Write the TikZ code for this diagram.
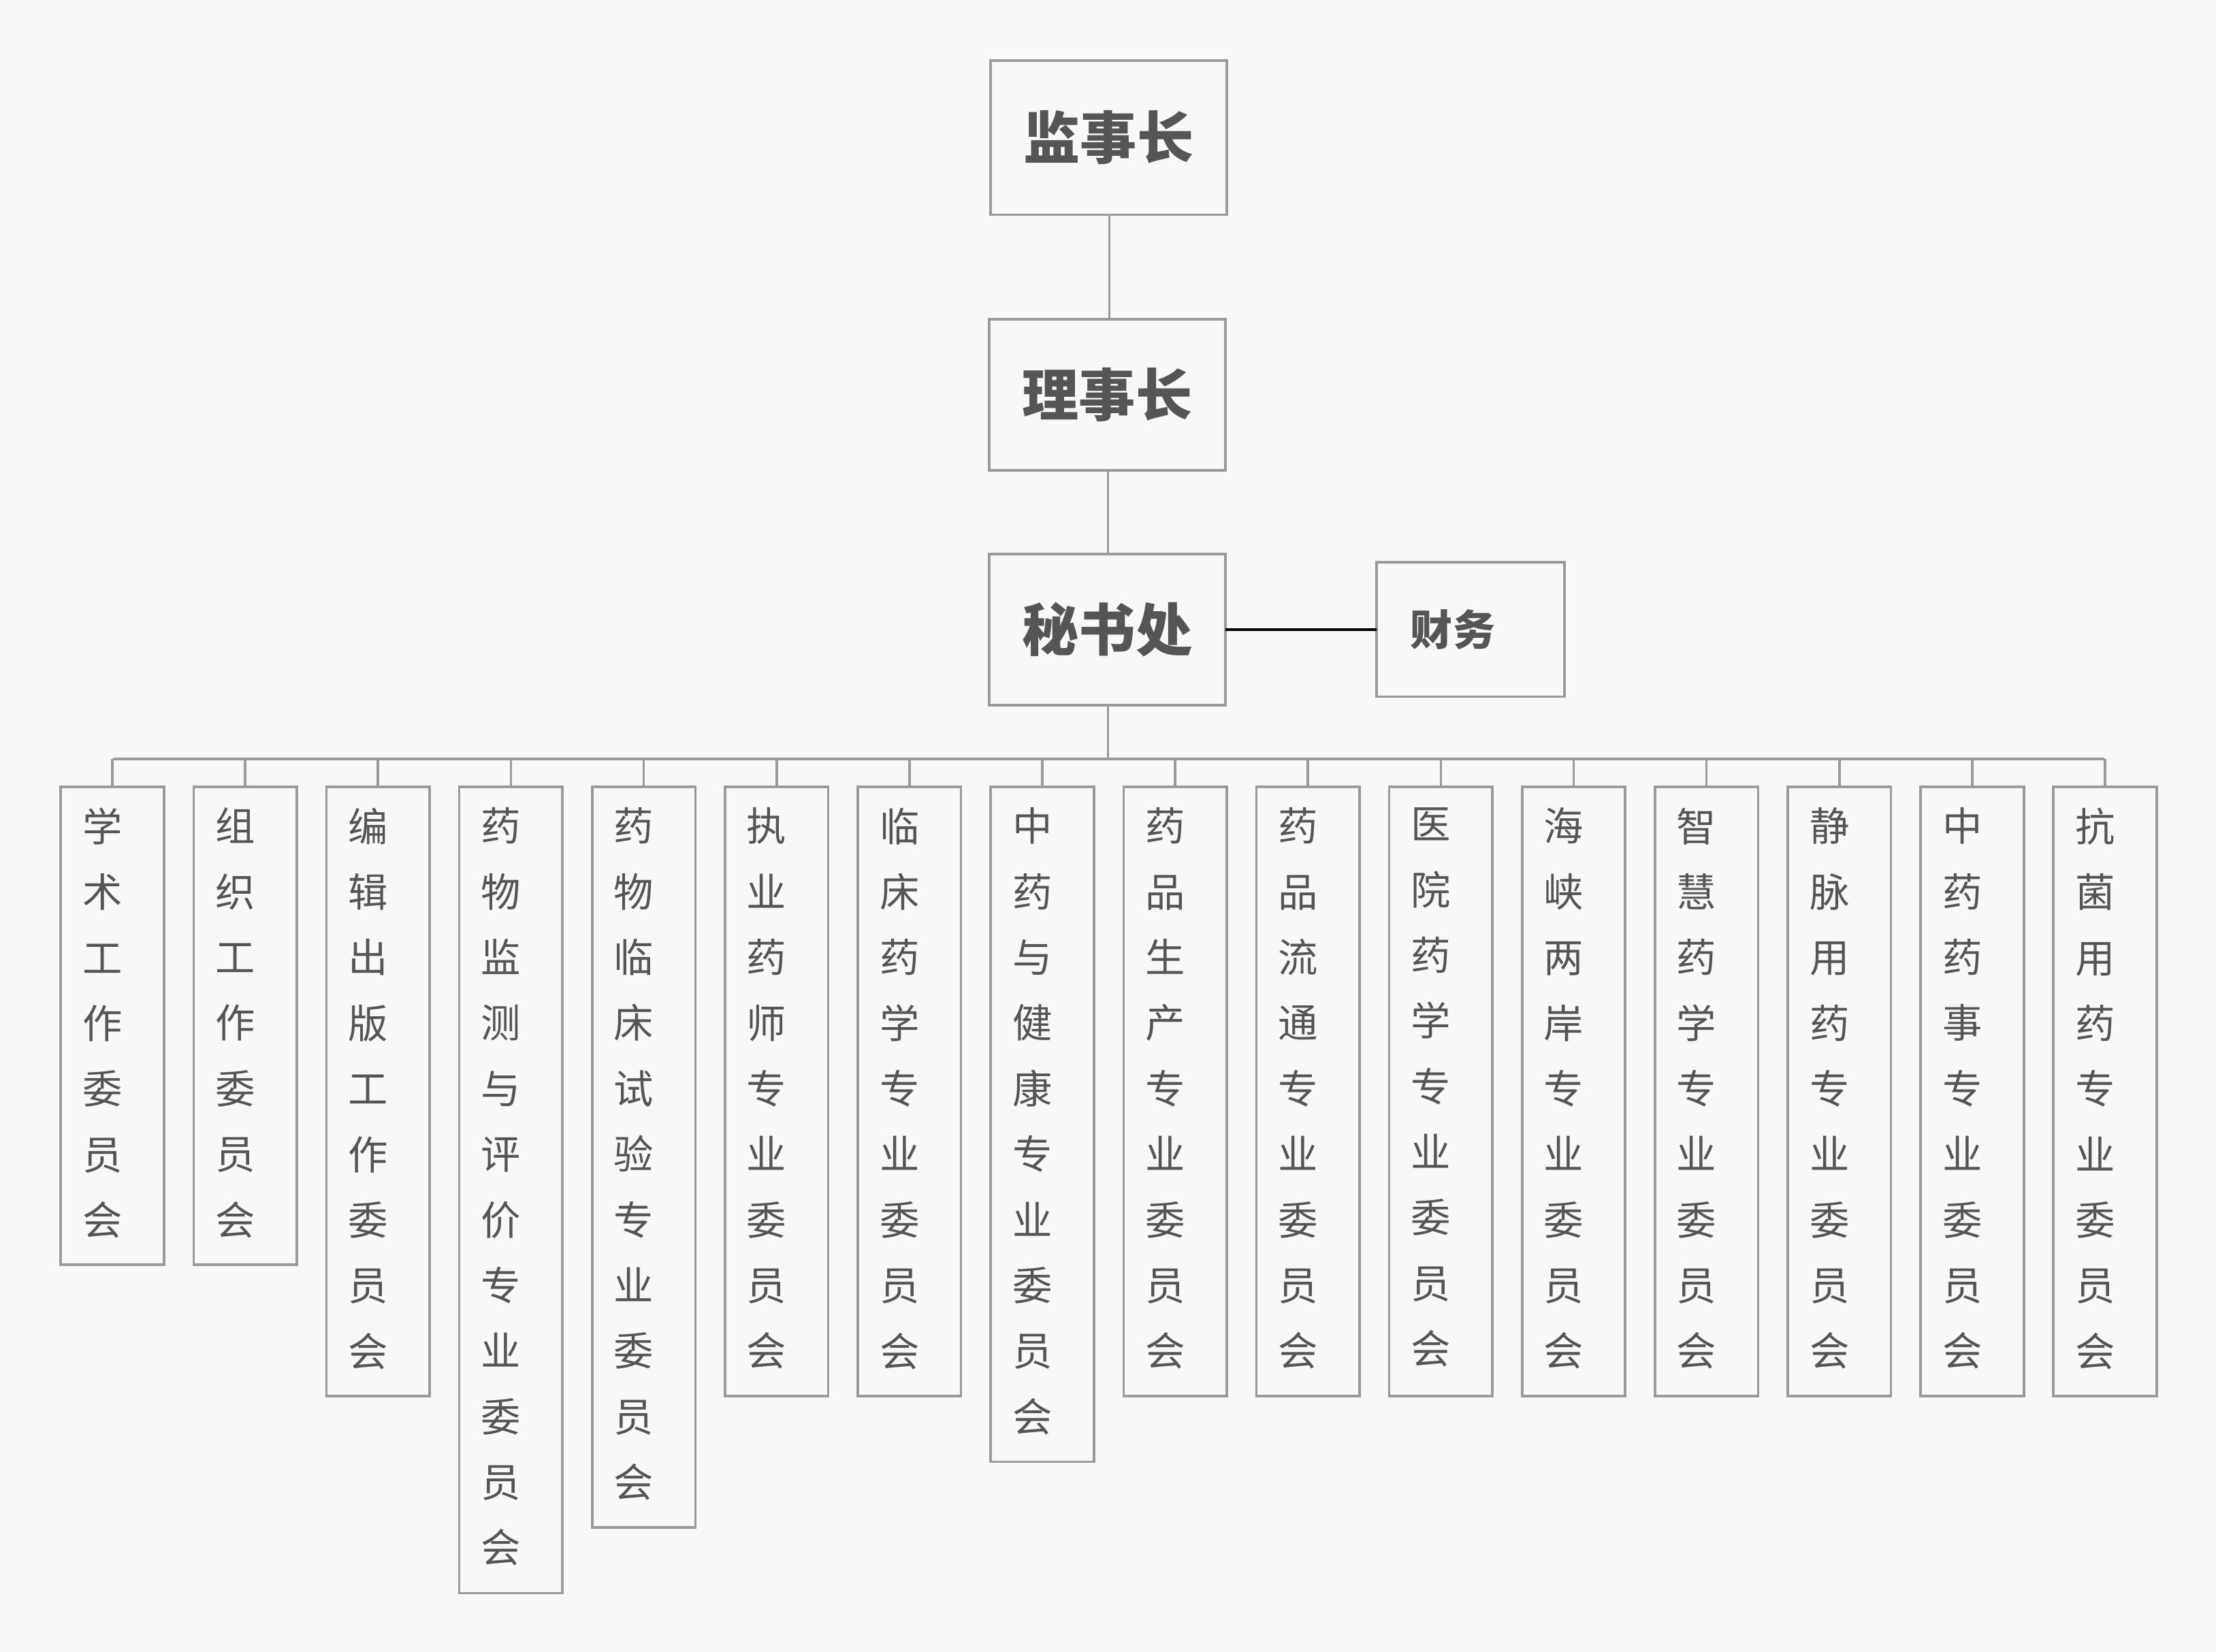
\documentclass[tikz,border=0pt]{standalone}
\usepackage{fontspec}
\newfontfamily\cjk{Noto Sans CJK SC}
\definecolor{bg}{HTML}{F8F8F8}
\definecolor{ln}{HTML}{9A9A9A}
\definecolor{tx}{HTML}{555555}
\begin{document}
\begin{tikzpicture}[x=0.01cm,y=-0.01cm,
  topbox/.style={draw=ln,line width=0.5pt,fill=bg,inner sep=0},
  toptext/.style={font=\cjk\bfseries\fontsize{11.4}{13}\selectfont,text=tx},
  colbox/.style={draw=ln,line width=0.5pt,fill=bg},
  coltext/.style={font=\cjk\fontsize{8}{13.2}\selectfont,text=tx,align=center,anchor=north,inner sep=0},
  conn/.style={draw=ln,line width=0.5pt}]
\fill[bg] (0,0) rectangle (1568,1169);
\useasboundingbox (0,0) rectangle (1568,1169);
\draw[topbox] (701,43) rectangle (868,152);
\node[toptext] (a) at (784.5,97.5) {监事长};
\draw[topbox] (700,226) rectangle (867,333);
\node[toptext] (b) at (783.5,279.5) {理事长};
\draw[topbox] (700,392) rectangle (867,499);
\node[toptext] (c) at (783.5,445.5) {秘书处};
\draw[topbox] (974,398) rectangle (1107,493);
\node[font=\cjk\bfseries\fontsize{8.5}{10}\selectfont,text=tx] (d) at (1028,445.5) {财务};
\coordinate (aB) at (785,152); \coordinate (bT) at (785,226);
\coordinate (bB) at (784,333); \coordinate (cT) at (784,392);
\coordinate (cR) at (867,445.5); \coordinate (dL) at (974,445.5);
\coordinate (cB) at (784,499); \coordinate (bus) at (784,537);
\draw[conn] (aB) -- (bT);
\draw[conn] (bB) -- (cT);
\draw[black,line width=0.6pt] (cR) -- (dL);
\draw[conn] (cB) -- (bus);
\coordinate (busL) at (80,537); \coordinate (busR) at (1489,537);
\draw[conn] (busL) -- (busR);
\foreach \i/\t/\n in {0/学\\术\\工\\作\\委\\员\\会/7,
 1/组\\织\\工\\作\\委\\员\\会/7,
 2/编\\辑\\出\\版\\工\\作\\委\\员\\会/9,
 3/药\\物\\监\\测\\与\\评\\价\\专\\业\\委\\员\\会/12,
 4/药\\物\\临\\床\\试\\验\\专\\业\\委\\员\\会/11,
 5/执\\业\\药\\师\\专\\业\\委\\员\\会/9,
 6/临\\床\\药\\学\\专\\业\\委\\员\\会/9,
 7/中\\药\\与\\健\\康\\专\\业\\委\\员\\会/10,
 8/药\\品\\生\\产\\专\\业\\委\\员\\会/9,
 9/药\\品\\流\\通\\专\\业\\委\\员\\会/9,
 10/医\\院\\药\\学\\专\\业\\委\\员\\会/9,
 11/海\\峡\\两\\岸\\专\\业\\委\\员\\会/9,
 12/智\\慧\\药\\学\\专\\业\\委\\员\\会/9,
 13/静\\脉\\用\\药\\专\\业\\委\\员\\会/9,
 14/中\\药\\药\\事\\专\\业\\委\\员\\会/9,
 15/抗\\菌\\用\\药\\专\\业\\委\\员\\会/9}{
  \pgfmathsetmacro\lx{43+94*\i}
  \pgfmathsetmacro\cx{\lx+36.5}
  \pgfmathsetmacro\by{557+\n*46.5+12.5}
  \coordinate (t\i) at (\cx,537);
  \coordinate (u\i) at (\cx,557);
  \draw[conn] (t\i) -- (u\i);
  \draw[colbox] (\lx,557) rectangle (\lx+73,\by);
  \node[coltext] (n\i) at (\lx+29.5,571) {\t};
}
\end{tikzpicture}
\end{document}
